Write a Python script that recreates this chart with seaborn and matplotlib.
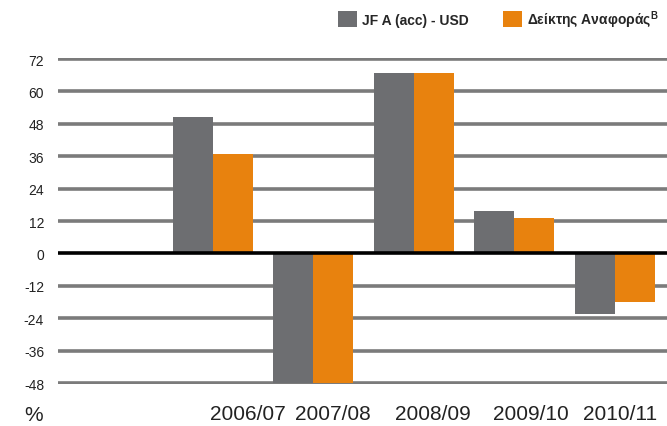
import matplotlib
matplotlib.use("Agg")
import matplotlib.pyplot as plt
import seaborn as sns
import pandas as pd
from matplotlib.patches import Patch

# data
years = ["2006/07", "2007/08", "2008/09", "2009/10", "2010/11"]
fund = [50.7, -48, 67, 15.8, -22.6]
index = [37.0, -48, 67, 13.0, -18.1]
series_names = ["JF A (acc) - USD", "Δείκτης Αναφοράς$^\\mathbf{B}$"]
yticks = [72, 60, 48, 36, 24, 12, 0, -12, -24, -36, -48]

colors = ["#6d6e71", "#e8820e"]

df = pd.DataFrame({
    "year": years * 2,
    "value": fund + index,
    "series": [series_names[0]] * len(years) + [series_names[1]] * len(years),
})

sns.set_style("white")
plt.rcParams["font.family"] = ["Liberation Sans", "DejaVu Sans"]
plt.rcParams["mathtext.fontset"] = "custom"
plt.rcParams["mathtext.rm"] = "Liberation Sans"
plt.rcParams["mathtext.bf"] = "Liberation Sans:bold"

fig = plt.figure(figsize=(6.67, 4.27), dpi=100)
ax = fig.add_axes([58 / 667, 1 - 385.35 / 427, 1 - 58 / 667, 326.7 / 427])

# first slot left empty, like the original
order = [" "] + years
ax = sns.barplot(data=df, x="year", y="value", hue="series", order=order,
                 palette=colors, saturation=1, width=0.8, ax=ax, zorder=2,
                 edgecolor="none", linewidth=0, legend=False)

ax.set_ylim(-48.5, 72.5)
ax.set_xlim(-0.54, 5.52)
ax.set_yticks(yticks)
ax.set_yticklabels([str(t) for t in yticks], fontsize=10, color="#222222")
for t in yticks:
    if t == 0:
        ax.axhline(0, color="black", lw=2.6, zorder=3)
    else:
        ax.axhline(t, color="#7b7b7b", lw=2.6, zorder=1)
ax.tick_params(axis="y", length=0, pad=10)
ax.tick_params(axis="x", length=0, pad=14)

# category labels sit a bit off the bar groups in the original
label_pos = [1.35, 2.195, 3.19, 4.163, 5.048]
ax.set_xticks(label_pos)
ax.set_xticklabels(years, fontsize=15, color="#222222")
ax.set_xlabel("")
ax.set_ylabel("")
fig.text(34 / 667, 1 - 416 / 427, "%", fontsize=15, color="#222222",
         ha="center", va="center")
sns.despine(ax=ax, left=True, bottom=True)

handles = [Patch(facecolor=c, edgecolor="none") for c in colors]
fig.legend(handles, series_names, loc="upper left",
           bbox_to_anchor=(338 / 667, 1 - 9 / 427), ncol=2, frameon=False,
           prop={"weight": "bold", "size": 10}, handlelength=1.37,
           handleheight=1.3, handletextpad=0.36, columnspacing=2.45,
           borderpad=0, borderaxespad=0)

fig.savefig("out.png", dpi=100)
